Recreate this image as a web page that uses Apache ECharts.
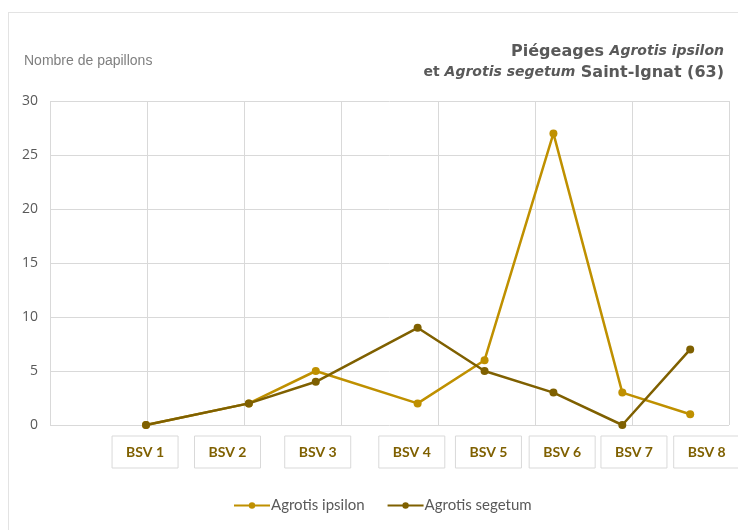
<!DOCTYPE html>
<html>
<head>
<meta charset="utf-8">
<script src="https://cdn.jsdelivr.net/npm/echarts@6/dist/echarts.min.js"></script>
<style>
  html, body { margin: 0; padding: 0; background: #ffffff; }
  #frame { position: absolute; left: 8px; top: 12px; width: 740px; height: 530px; border-left: 1px solid #e3e3e3; border-top: 1px solid #e3e3e3; }
  #chart { position: absolute; left: 0; top: 0; width: 738px; height: 530px; }
</style>
</head>
<body>
<div id="frame"></div>
<div id="chart"></div>
<script>
// ---- data ----
const categories = ['BSV 1', 'BSV 2', 'BSV 3', 'BSV 4', 'BSV 5', 'BSV 6', 'BSV 7', 'BSV 8'];
const sampleX = [0.99, 2.05, 2.74, 3.79, 4.48, 5.19, 5.90, 6.60];   // position of each sample on the x scale
const ipsilon = [0, 2, 5, 2, 6, 27, 3, 1];
const segetum = [0, 2, 4, 9, 5, 3, 0, 7];
const labelX = [0.98, 1.83, 2.76, 3.73, 4.52, 5.28, 6.02, 6.77];    // centres of the category boxes on the x scale
const labelY = -2.5;
const yTicks = [0, 5, 10, 15, 20, 25, 30];

const cIps = '#BF9000';
const cSeg = '#7F6000';

const chart = echarts.init(document.getElementById('chart'), null, { renderer: 'canvas' });

const pairs = (ys) => ys.map((v, i) => [sampleX[i], v]);

const option = {
  backgroundColor: 'transparent',
  animation: false,
  legend: {
    bottom: 12,
    left: 228,
    itemWidth: 36,
    itemHeight: 8,
    itemGap: 22,
    textStyle: { fontFamily: 'Lato', fontSize: 15, color: '#595959', padding: [0, 0, 0, -4] },
    data: ['Agrotis ipsilon', 'Agrotis segetum']
  },
  grid: { left: 50, right: 9, top: 101, bottom: 105, containLabel: false },
  xAxis: {
    type: 'value',
    min: 0, max: 7, interval: 1,
    axisLine: { show: false },
    axisTick: { show: false },
    axisLabel: { show: false },
    splitLine: { show: true, lineStyle: { color: '#d9d9d9', width: 1 } }
  },
  yAxis: {
    type: 'value',
    min: yTicks[0], max: yTicks[yTicks.length - 1], interval: 5,
    axisLine: { show: false },
    axisTick: { show: false },
    axisLabel: { margin: 12, fontFamily: 'Open Sans', fontSize: 14, color: '#595959' },
    splitLine: { show: true, lineStyle: { color: '#d9d9d9', width: 1 } }
  },
  series: [
    {
      name: 'Agrotis ipsilon', type: 'line', data: pairs(ipsilon),
      symbol: 'circle', symbolSize: 8,
      lineStyle: { color: cIps, width: 2.5 },
      itemStyle: { color: cIps },
      z: 2
    },
    {
      name: 'Agrotis segetum', type: 'line', data: pairs(segetum),
      symbol: 'circle', symbolSize: 8,
      lineStyle: { color: cSeg, width: 2.5 },
      itemStyle: { color: cSeg },
      z: 3
    }
  ],
  graphic: []
};
chart.setOption(option);

// titles + category boxes placed via the chart's own scales
const graphics = [
  {
    type: 'text', x: 724, y: 41,
    style: {
      text: '{b|Piégeages }{i|Agrotis ipsilon}\n{b2|et }{i|Agrotis segetum}{b| Saint-Ignat (63)}',
      textAlign: 'right',
      rich: {
        b: { fontFamily: 'DejaVu Sans', fontWeight: 'bold', fontSize: 16, fill: '#595959', lineHeight: 21 },
        b2: { fontFamily: 'DejaVu Sans', fontWeight: 'bold', fontSize: 14, fill: '#595959', lineHeight: 21 },
        i: { fontFamily: 'DejaVu Sans', fontWeight: 'bold', fontStyle: 'italic', fontSize: 14, fill: '#595959', lineHeight: 21 }
      }
    }
  },
  {
    type: 'text', left: 24, top: 54,
    style: { text: 'Nombre de papillons', fontFamily: 'Liberation Sans', fontSize: 14, fill: '#7f7f7f' }
  }
];
categories.forEach((name, i) => {
  const p = chart.convertToPixel({ gridIndex: 0 }, [labelX[i], labelY]);
  graphics.push({
    type: 'group', x: p[0], y: p[1],
    children: [
      { type: 'rect', shape: { x: -33, y: -16, width: 66, height: 32 },
        style: { fill: '#ffffff', stroke: '#d9d9d9', lineWidth: 1 } },
      { type: 'text', x: 0, y: 0,
        style: { text: name, fontFamily: 'Lato', fontWeight: 'bold', fontSize: 14, fill: '#7F6000',
                 textAlign: 'center', textVerticalAlign: 'middle' } }
    ]
  });
});
chart.setOption({ graphic: graphics });
</script>
</body>
</html>
